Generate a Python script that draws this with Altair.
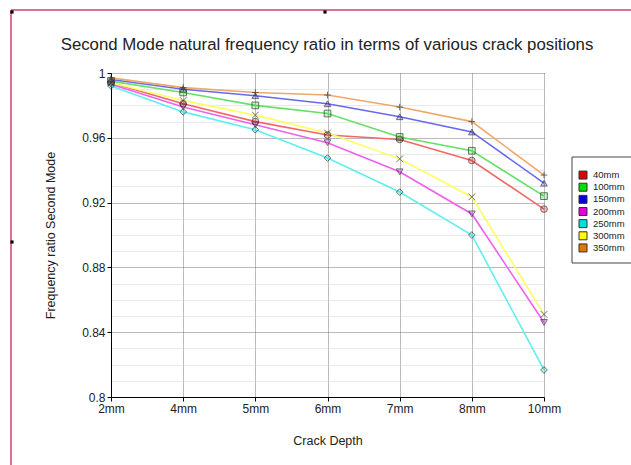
import altair as alt
import pandas as pd

# ---- data ----
depths = ["2mm", "4mm", "5mm", "6mm", "7mm", "8mm", "10mm"]
positions = ["40mm", "100mm", "150mm", "200mm", "250mm", "300mm", "350mm"]
r40 = [0.994, 0.981, 0.970, 0.9617, 0.959, 0.946, 0.916]
r100 = [0.995, 0.988, 0.980, 0.975, 0.9605, 0.952, 0.924]
r150 = [0.996, 0.990, 0.986, 0.981, 0.973, 0.9636, 0.932]
r200 = [0.993, 0.979, 0.968, 0.957, 0.939, 0.913, 0.846]
r250 = [0.992, 0.976, 0.965, 0.9475, 0.9265, 0.900, 0.8167]
r300 = [0.994, 0.983, 0.974, 0.963, 0.947, 0.9235, 0.851]
r350 = [0.997, 0.991, 0.988, 0.9864, 0.979, 0.970, 0.937]
series = [r40, r100, r150, r200, r250, r300, r350]

title_text = "Second Mode natural frequency ratio in terms of various crack positions"

legend_colors = ["#e00000", "#00e000", "#0000e0", "#e000e0", "#00e0e0", "#ffff00", "#e07800"]
line_colors = ["#f06868", "#66e066", "#6868f0", "#f060f0", "#60eeee", "#ffff60", "#f0a868"]
shapes = ["circle", "square", "triangle-up", "triangle-down", "diamond",
          "M-1,-1L1,1M-1,1L1,-1", "M-1,0L1,0M0,-1L0,1"]

rows = []
for pos, vals in zip(positions, series):
    for d, v in zip(depths, vals):
        rows.append({"depth": d, "position": pos, "marker": pos, "series": pos, "ratio": v})
df = pd.DataFrame(rows)
legend_df = pd.DataFrame({"position": positions})

W, H = 433, 324
PAD_L, PAD_T = 111, 73
PAD_R, PAD_B = 631 - PAD_L - W, 465 - PAD_T - H
FONT = "Liberation Sans"

y_ticks = [round(0.80 + 0.01 * i, 2) for i in range(21)]
major_test = "round(datum.value*100) % 4 == 0"

fill_scale = alt.Scale(domain=positions, range=legend_colors)

x_enc = alt.X(
    "depth:N", sort=depths,
    scale=alt.Scale(type="point", padding=0),
    axis=alt.Axis(
        labelAngle=0, grid=True, gridDash=[1, 1], gridColor="#777",
        domainColor="#000", tickColor="#000", tickSize=4,
        labelFontSize=12, labelColor="#222", labelPadding=2,
        title="Crack Depth", titleFontSize=12.5, titleFontWeight="normal",
        titleColor="#222", titlePadding=20,
    ),
)
y_enc = alt.Y(
    "ratio:Q",
    scale=alt.Scale(domain=[0.8, 1.0], nice=False, zero=False),
    axis=alt.Axis(
        values=y_ticks,
        labelExpr=f"{major_test} ? format(datum.value, '.2~f') : ''",
        labelOverlap=False, labelFlush=False,
        grid=True, gridDash=[1, 1],
        gridColor={"condition": {"test": major_test, "value": "#777"}, "value": "#d2d2d2"},
        tickColor={"condition": {"test": major_test, "value": "#000"}, "value": "rgba(0,0,0,0)"},
        domainColor="#000", tickSize=4,
        labelFontSize=12, labelColor="#222", labelPadding=2,
        title="Frequency ratio Second Mode", titleFontSize=12.5,
        titleFontWeight="normal", titleColor="#222", titlePadding=24,
    ),
)

base = alt.Chart(df)

lines = base.mark_line(strokeWidth=1.6).encode(
    x=x_enc, y=y_enc,
    stroke=alt.Stroke("series:N", sort=positions,
                      scale=alt.Scale(domain=positions, range=line_colors), legend=None),
    detail="series:N",
)

points = base.mark_point(size=45, strokeWidth=1, filled=True).encode(
    x=x_enc, y=y_enc,
    shape=alt.Shape("marker:N", scale=alt.Scale(domain=positions, range=shapes), legend=None),
    fill=alt.Fill("position:N", sort=positions, scale=fill_scale, legend=None),
    stroke=alt.value("#333"),
    fillOpacity=alt.value(0.35),
)

plot = alt.layer(lines, points)

# ---- legend box (drawn with marks) ----
one = pd.DataFrame({"k": [0]})
legend_box = alt.Chart(one).mark_rect(fill="white", stroke="#444", strokeWidth=1).encode(
    x=alt.value(461), x2=alt.value(530), y=alt.value(84), y2=alt.value(190))

leg_y = alt.Y("position:N", sort=positions,
              scale=alt.Scale(type="point", domain=positions, range=[96, 181]), axis=None)
leg_sw = alt.Chart(legend_df).mark_square(size=64, stroke="#333", strokeWidth=1, opacity=1).encode(
    x=alt.value(472), y=leg_y,
    fill=alt.Fill("position:N", sort=positions, scale=fill_scale, legend=None),
)
leg_tx = alt.Chart(legend_df).mark_text(
    align="left", baseline="middle", fontSize=9.5, font=FONT, color="#222"
).encode(x=alt.value(482), y=leg_y, text="position:N")
legend_layer = alt.layer(leg_sw, leg_tx)

title_layer = alt.Chart(one).mark_text(
    text=title_text, fontSize=16.8, font=FONT, color="#222",
    align="center", baseline="alphabetic",
).encode(x=alt.value(216), y=alt.value(-23))

frame_color = "#d8709a"
frame_left = alt.Chart(one).mark_rule(color=frame_color, strokeWidth=2).encode(
    x=alt.value(-100), y=alt.value(-63), y2=alt.value(392))
frame_top = alt.Chart(one).mark_rule(color=frame_color, strokeWidth=2).encode(
    x=alt.value(-100), x2=alt.value(520), y=alt.value(-63))
h1 = alt.Chart(one).mark_square(size=10, color="#000", opacity=1).encode(
    x=alt.value(-99), y=alt.value(-61))
h2 = alt.Chart(one).mark_square(size=10, color="#000", opacity=1).encode(
    x=alt.value(214), y=alt.value(-61))
h3 = alt.Chart(one).mark_square(size=10, color="#000", opacity=1).encode(
    x=alt.value(-99), y=alt.value(169))

chart = alt.layer(
    plot, legend_box, legend_layer, title_layer, frame_left, frame_top, h1, h2, h3
).resolve_scale(y="independent").properties(
    width=W, height=H,
    autosize="none",
    padding={"left": PAD_L, "top": PAD_T, "right": PAD_R, "bottom": PAD_B},
).configure(
    font=FONT,
).configure_view(stroke=None).configure_axis(
    labelFont=FONT, titleFont=FONT
)

chart.save("out.html", embed_options={"renderer": "svg", "actions": False})
